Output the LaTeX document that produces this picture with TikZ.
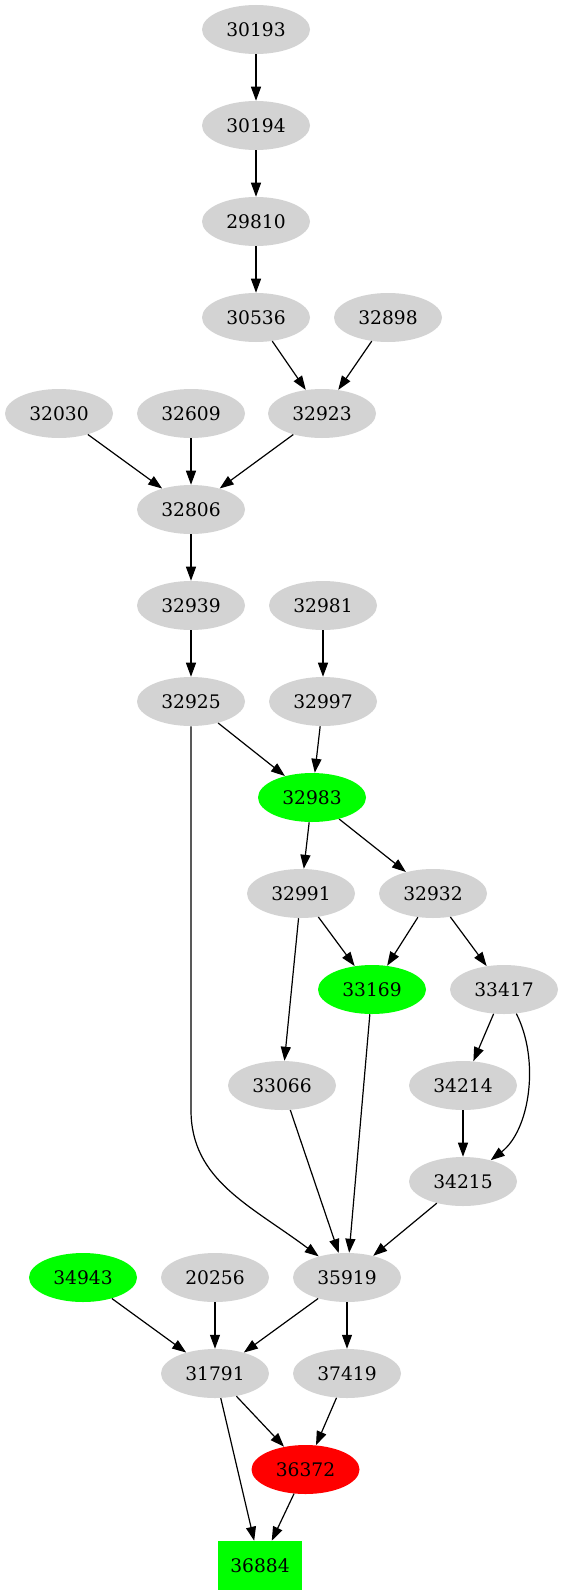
\documentclass[tikz,border=0pt]{standalone}
\usepackage{fontspec}
\setmainfont{DejaVu Serif}
\usetikzlibrary{shapes.geometric,arrows.meta}
\definecolor{lgray}{HTML}{D3D3D3}
\definecolor{vgreen}{HTML}{00FF00}
\definecolor{vred}{HTML}{FF0000}
\tikzset{
  nd/.style={ellipse, fill=lgray, draw=none, minimum width=81pt, minimum height=36.75pt, inner sep=0pt, font=\fontsize{14}{16}\selectfont},
  gn/.style={nd, fill=vgreen},
  rd/.style={nd, fill=vred},
  bx/.style={rectangle, fill=vgreen, draw=none, minimum width=63pt, minimum height=36.75pt, inner sep=0pt, font=\fontsize{14}{16}\selectfont},
  e/.style={draw=black, line width=0.9pt, -{Triangle[length=10.5pt,width=7.5pt]}}
}
\begin{document}
\begin{tikzpicture}[x=0.75pt,y=-0.75pt]
\useasboundingbox (0,0) rectangle (563,1595);
\node[nd] (n30193) at (256,29.5) {30193};
\node[nd] (n30194) at (256,125.5) {30194};
\node[nd] (n29810) at (256,221.5) {29810};
\node[nd] (n30536) at (256,317.5) {30536};
\node[nd] (n32898) at (388,317.5) {32898};
\node[nd] (n32030) at (59,413.5) {32030};
\node[nd] (n32609) at (191,413.5) {32609};
\node[nd] (n32923) at (322,413.5) {32923};
\node[nd] (n32806) at (191,509.5) {32806};
\node[nd] (n32939) at (191,605.5) {32939};
\node[nd] (n32981) at (323,605.5) {32981};
\node[nd] (n32925) at (191,701.5) {32925};
\node[nd] (n32997) at (323,701.5) {32997};
\node[gn] (n32983) at (312,797.5) {32983};
\node[nd] (n32991) at (301,893.5) {32991};
\node[nd] (n32932) at (433,893.5) {32932};
\node[gn] (n33169) at (372,989.5) {33169};
\node[nd] (n33417) at (504,989.5) {33417};
\node[nd] (n33066) at (282,1085.5) {33066};
\node[nd] (n34214) at (463,1085.5) {34214};
\node[nd] (n34215) at (463,1181.5) {34215};
\node[gn] (n34943) at (83,1277.5) {34943};
\node[nd] (n20256) at (215,1277.5) {20256};
\node[nd] (n35919) at (347,1277.5) {35919};
\node[nd] (n31791) at (215,1373.5) {31791};
\node[nd] (n37419) at (347,1373.5) {37419};
\node[rd] (n36372) at (305.5,1469.5) {36372};
\node[bx] (n36884) at (260,1565.5) {36884};
\coordinate (bend) at (191,1110);

\draw[e] (n30193) -- (n30194);
\draw[e] (n30194) -- (n29810);
\draw[e] (n29810) -- (n30536);
\draw[e] (n30536) -- (n32923);
\draw[e] (n32898) -- (n32923);
\draw[e] (n32030) -- (n32806);
\draw[e] (n32609) -- (n32806);
\draw[e] (n32923) -- (n32806);
\draw[e] (n32806) -- (n32939);
\draw[e] (n32939) -- (n32925);
\draw[e] (n32981) -- (n32997);
\draw[e] (n32925) -- (n32983);
\draw[e] (n32997) -- (n32983);
\draw[e] (n32925.south) -- (bend) .. controls (191,1180) and (250,1205) .. (n35919);
\draw[e] (n32983) -- (n32991);
\draw[e] (n32983) -- (n32932);
\draw[e] (n32991) -- (n33169);
\draw[e] (n32991) -- (n33066);
\draw[e] (n32932) -- (n33169);
\draw[e] (n32932) -- (n33417);
\draw[e] (n33169) -- (n35919);
\draw[e] (n33417) -- (n34214);
\draw[e] (n33417) .. controls (540,1060) and (530,1130) .. (n34215);
\draw[e] (n34214) -- (n34215);
\draw[e] (n33066) -- (n35919);
\draw[e] (n34215) -- (n35919);
\draw[e] (n34943) -- (n31791);
\draw[e] (n20256) -- (n31791);
\draw[e] (n35919) -- (n31791);
\draw[e] (n35919) -- (n37419);
\draw[e] (n31791) -- (n36372);
\draw[e] (n31791) -- (n36884);
\draw[e] (n37419) -- (n36372);
\draw[e] (n36372) -- (n36884);
\end{tikzpicture}
\end{document}
